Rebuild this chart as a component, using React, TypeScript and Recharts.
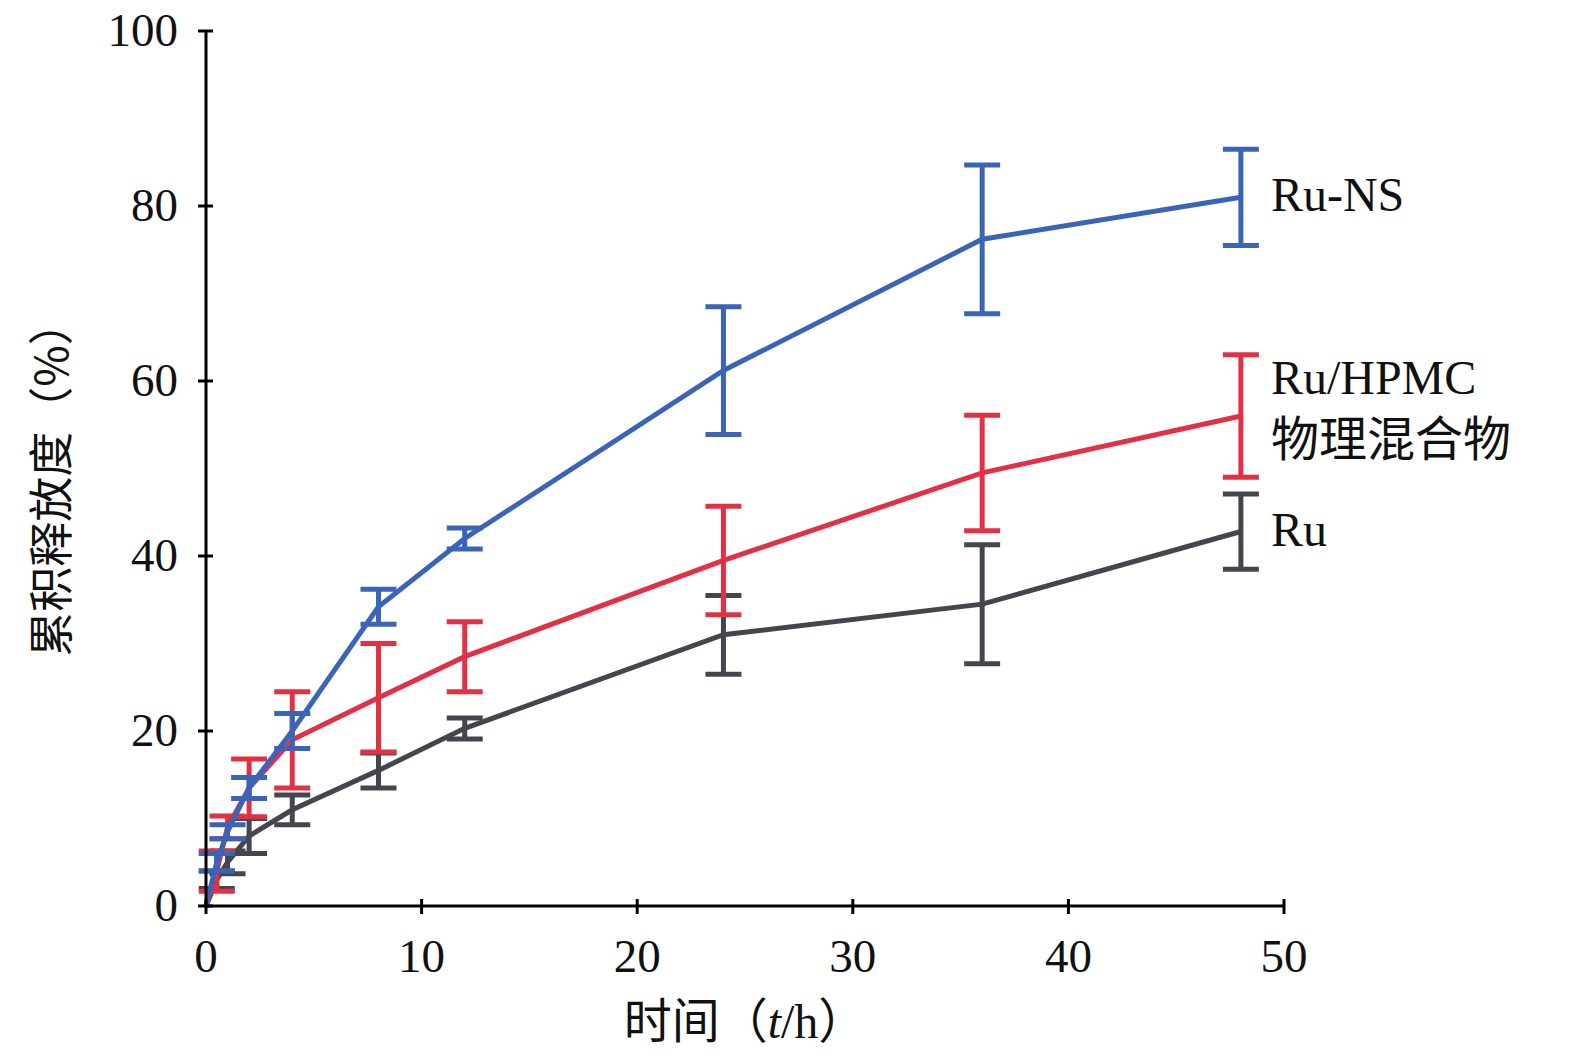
import React from 'react'
import {
  LineChart, Line, XAxis, YAxis, ErrorBar, ReferenceDot, Label,
} from 'recharts'

const times = [0, 0.5, 1, 2, 4, 8, 12, 24, 36, 48]
const ruNs = [0, 5, 8.5, 13.5, 20, 34.2, 42, 61.2, 76.2, 81]
const ruNsErr = [0, 1, 0.8, 1.2, 2, 2, 1.2, 7.3, 8.5, 5.5]
const ruHpmc = [0, 4, 9, 13.5, 19, 23.8, 28.5, 39.5, 49.5, 56]
const ruHpmcErr = [0, 2.3, 1.3, 3.3, 5.5, 6.2, 4, 6.2, 6.6, 7]
const ru = [0, 3, 5, 8, 11, 15.5, 20.3, 31, 34.5, 42.8]
const ruErr = [0, 1, 1.3, 2, 1.7, 2, 1.2, 4.5, 6.8, 4.3]
const xTicks = [0, 10, 20, 30, 40, 50]
const yTicks = [0, 20, 40, 60, 80, 100]

const data = times.map((t, i) => ({
  t, ns: ruNs[i], nsE: ruNsErr[i], hp: ruHpmc[i], hpE: ruHpmcErr[i], ru: ru[i], ruE: ruErr[i],
}))

const serif = '"Liberation Serif", "Times New Roman", serif'
const cjk = '"Noto Sans CJK SC", sans-serif'

const YTick = (p: any) => (
  <g>
    <line x1={p.x} x2={p.x + 15} y1={p.y} y2={p.y} stroke="#000" strokeWidth={3} />
    <text x={p.x - 20} y={p.y} textAnchor="end" dy={15} fontSize={47} fontFamily={serif} fill="#111">{p.payload.value}</text>
  </g>
)
const XTick = (p: any) => (
  <g>
    <line x1={p.x} x2={p.x} y1={p.y} y2={p.y - 15} stroke="#000" strokeWidth={3} />
    <text x={p.x} y={p.y + 58} textAnchor="middle" fontSize={47} fontFamily={serif} fill="#111">{p.payload.value}</text>
  </g>
)

const NameLabel = (lines: string[], dy: number) => (p: any) => {
  const { x, y } = p.viewBox
  return (
    <text x={x + 30} y={y + dy} fontSize={48} fill="#111">
      {lines.map((l, i) => (
        <tspan key={i} x={x + 30} dy={i === 0 ? 0 : 62} fontFamily={i === 0 ? serif : cjk}>{l}</tspan>
      ))}
    </text>
  )
}

export default function App() {
  return (
    <LineChart width={1560} height={1048} data={data} margin={{ top: 23, right: 284, left: 118, bottom: 90 }}>
      <XAxis dataKey="t" type="number" domain={[0, 50]} ticks={xTicks} tick={<XTick />} tickLine={false}
        axisLine={{ stroke: '#000', strokeWidth: 3 }} height={60}>
        <Label position="bottom" offset={40} content={(p: any) => (
          <text x={p.viewBox.x + p.viewBox.width / 2} y={p.viewBox.y + 132} textAnchor="middle" fontSize={48} fill="#111">
            <tspan fontFamily={cjk}>时间（</tspan><tspan fontFamily={serif} fontStyle="italic">t</tspan><tspan fontFamily={serif}>/h</tspan><tspan fontFamily={cjk}>）</tspan>
          </text>
        )} />
      </XAxis>
      <YAxis type="number" domain={[0, 100]} ticks={yTicks} tick={<YTick />} tickLine={false}
        axisLine={{ stroke: '#000', strokeWidth: 3 }} width={80}>
        <Label content={(p: any) => (
          <text x={60} y={p.viewBox.y + p.viewBox.height / 2 + 10} textAnchor="middle" fontSize={45} fontFamily={cjk} fill="#111"
            transform={`rotate(-90 60 ${p.viewBox.y + p.viewBox.height / 2 + 10})`}>累积释放度（%）</text>
        )} />
      </YAxis>
      <Line dataKey="ru" stroke="#44464d" strokeWidth={5} dot={false} isAnimationActive={false}>
        <ErrorBar dataKey="ruE" stroke="#44464d" strokeWidth={5} width={18} />
      </Line>
      <Line dataKey="hp" stroke="#e33045" strokeWidth={5} dot={false} isAnimationActive={false}>
        <ErrorBar dataKey="hpE" stroke="#e33045" strokeWidth={5} width={18} />
      </Line>
      <Line dataKey="ns" stroke="#3a64b8" strokeWidth={5} dot={false} isAnimationActive={false}>
        <ErrorBar dataKey="nsE" stroke="#3a64b8" strokeWidth={5} width={18} />
      </Line>
      <ReferenceDot x={48} y={ruNs[9]} r={0} label={NameLabel(['Ru-NS'], 14)} />
      <ReferenceDot x={48} y={ruHpmc[9]} r={0} label={NameLabel(['Ru/HPMC', '物理混合物'], -22)} />
      <ReferenceDot x={48} y={ru[9]} r={0} label={NameLabel(['Ru'], 14)} />
    </LineChart>
  )
}
